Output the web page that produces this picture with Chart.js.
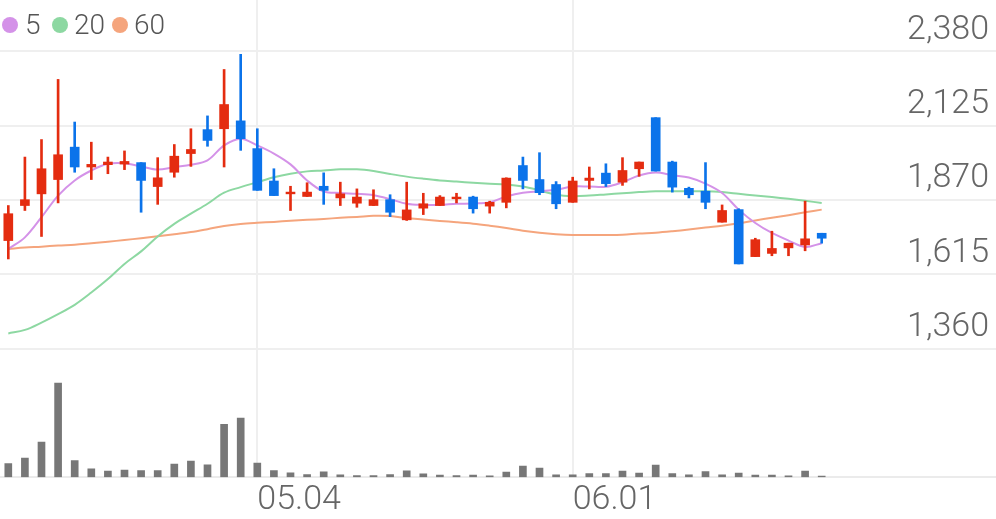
<!DOCTYPE html>
<html>
<head>
<meta charset="utf-8">
<script src="https://cdn.jsdelivr.net/npm/chart.js@4"></script>
<style>
html,body{margin:0;padding:0;background:#fff;}
#wrap{position:relative;width:996px;height:519px;overflow:hidden;}
#legend{position:absolute;left:0;top:0;width:200px;height:50px;font-family:Roboto,sans-serif;font-weight:300;font-size:28px;line-height:28px;color:#555;}
#legend .dot{position:absolute;top:17px;width:16px;height:16px;border-radius:50%;}
#legend .txt{position:absolute;top:11px;white-space:nowrap;}
</style>
</head>
<body>
<div id="wrap">
  <canvas id="c" width="996" height="519"></canvas>
  <div id="legend">
    <span class="dot" style="left:2px;background:#d492e8"></span><span class="txt" style="left:25px">5</span>
    <span class="dot" style="left:52px;background:#8dd8a2"></span><span class="txt" style="left:74px">20</span>
    <span class="dot" style="left:112px;background:#f5a57d"></span><span class="txt" style="left:134px">60</span>
  </div>
</div>
<script>
const dates = ['04.08','04.09','04.10','04.13','04.14','04.16','04.17','04.20','04.21','04.22',
  '04.23','04.24','04.27','04.28','04.29','05.04','05.06','05.07','05.08','05.11',
  '05.12','05.13','05.14','05.15','05.18','05.19','05.20','05.21','05.22','05.25',
  '05.26','05.27','05.28','05.29','06.01','06.02','06.03','06.04','06.05','06.08',
  '06.09','06.10','06.11','06.12','06.15','06.16','06.17','06.18','06.19','06.22'];
const openP  = [1731,1851,1891,1940,2051,1983,1991,1993,1998,1916,
  1965,2029,2111,2114,2141,2046,1935,1891,1882,1917,
  1877,1859,1851,1871,1802,1842,1851,1874,1880,1849,
  1862,1988,1940,1923,1862,1937,1962,1931,1977,2152,
  2000,1910,1900,1794,1837,1676,1687,1706,1716,1756];
const highP  = [1851,2017,2077,2283,2137,2068,2017,2038,1998,2015,
  2060,2114,2158,2317,2369,2114,1977,1917,1929,1963,
  1931,1908,1905,1888,1931,1893,1885,1893,1883,1866,
  1946,2017,2032,1933,1948,1983,1994,2015,2000,2152,
  2003,1914,1998,1853,1840,1739,1763,1722,1866,1756];
const lowP   = [1668,1834,1745,1860,1965,1940,1960,1974,1828,1855,
  1948,1985,2054,1983,2040,1903,1885,1834,1882,1855,
  1851,1845,1851,1813,1800,1820,1851,1860,1825,1825,
  1843,1908,1888,1840,1862,1908,1916,1920,1951,1969,
  1897,1877,1840,1794,1651,1676,1679,1679,1696,1722];
const closeP = [1823,1871,1977,2025,1983,1992,2000,2002,1937,1946,
  2020,2043,2074,2197,2080,1903,1885,1897,1897,1903,
  1891,1880,1871,1828,1836,1857,1880,1880,1840,1862,
  1945,1937,1895,1857,1935,1945,1926,1971,2000,1969,
  1914,1888,1862,1834,1651,1734,1704,1722,1737,1739];
const ma5  = [1702,1742,1811,1885,1937,1971,1994,1996,1985,1974,
  1983,1991,2006,2057,2080,2057,2029,1992,1937,1899,
  1894,1891,1886,1873,1857,1853,1853,1857,1858,1862,
  1882,1895,1900,1905,1916,1916,1915,1931,1954,1964,
  1955,1947,1926,1894,1837,1791,1757,1731,1709,1722];
const ma20 = [1413,1425,1450,1479,1511,1553,1599,1651,1694,1745,
  1788,1823,1857,1895,1914,1931,1948,1960,1968,1971,
  1975,1975,1969,1959,1950,1943,1937,1933,1929,1926,
  1923,1916,1903,1888,1883,1885,1889,1893,1897,1900,
  1900,1900,1900,1897,1891,1885,1880,1874,1867,1860];
const ma60 = [1702,1707,1710,1714,1717,1722,1727,1733,1739,1746,
  1753,1760,1770,1781,1788,1792,1795,1799,1802,1805,
  1809,1812,1816,1815,1808,1803,1798,1794,1789,1782,
  1774,1765,1758,1753,1750,1750,1750,1751,1755,1758,
  1763,1769,1776,1782,1790,1800,1809,1818,1828,1837];
const volume = [68500,95000,175000,470000,83500,41500,30000,35000,33500,33500,
  65000,80000,61500,263500,295000,70000,33500,21500,13500,26500,
  11500,8500,8500,13500,31500,16500,10000,8500,10000,6500,
  25000,55000,45000,11500,11500,18500,18500,30000,20000,60000,
  18500,11500,28500,11500,20000,10000,10000,6500,30000,5000];
const priceTicks = [1360,1615,1870,2125,2380];
const tickLabels = ['05.04','06.01'];
const emptySlots = 10;

const labels = dates.concat(new Array(emptySlots).fill(''));
const UP = '#e42c10', DOWN = '#0b73ea';
const candleColors = closeP.map((c, i) => c >= openP[i] ? UP : DOWN);
const textColor = '#666666';
const gridColor = '#efefef';
const axisFont = {family: 'Roboto', size: 34, weight: 300};

function noPad(s) { s.width = 0; s.paddingTop = 0; s.paddingBottom = 0; }

new Chart(document.getElementById('c'), {
  data: {
    labels: labels,
    datasets: [
      {type: 'line', label: '5', data: ma5, borderColor: '#d492e8', borderWidth: 2, pointRadius: 0, tension: 0.35, yAxisID: 'y', order: 5},
      {type: 'line', label: '20', data: ma20, borderColor: '#8dd8a2', borderWidth: 2, pointRadius: 0, tension: 0.35, yAxisID: 'y', order: 6},
      {type: 'line', label: '60', data: ma60, borderColor: '#f5a57d', borderWidth: 2, pointRadius: 0, tension: 0.35, yAxisID: 'y', order: 7},
      {type: 'bar', label: 'wick', data: lowP.map((l, i) => [l, highP[i]]), backgroundColor: candleColors, barThickness: 2, grouped: false, yAxisID: 'y', order: 2},
      {type: 'bar', label: 'body', data: openP.map((o, i) => [o, closeP[i]]), backgroundColor: candleColors, barThickness: 9, grouped: false, yAxisID: 'y', order: 1},
      {type: 'bar', label: 'volume', data: volume, backgroundColor: '#777777', barThickness: 7, grouped: false, yAxisID: 'v', order: 3}
    ]
  },
  options: {
    responsive: false,
    animation: false,
    layout: {padding: {left: 0, right: 0, top: 0, bottom: -5}},
    plugins: {legend: {display: false}, tooltip: {enabled: false}},
    scales: {
      x: {
        type: 'category',
        offset: true,
        grid: {offset: false, lineWidth: 2, drawTicks: false,
          color: (ctx) => (ctx.tick && ctx.tick.label) ? gridColor : 'rgba(0,0,0,0)'},
        border: {display: true, color: '#ebebeb', width: 2},
        afterFit: (s) => { s.paddingLeft = 0; s.paddingRight = 0; },
        ticks: {
          autoSkip: false, maxRotation: 0, minRotation: 0, align: 'start', padding: 3,
          color: textColor, font: axisFont,
          callback: (v, i) => tickLabels.includes(labels[i]) ? labels[i] : ''
        }
      },
      y: {
        position: 'right', stack: 'panel', stackWeight: 348,
        min: 1360, max: 2555,
        afterBuildTicks: (s) => { s.ticks = priceTicks.map(v => ({value: v})); },
        afterFit: noPad,
        grid: {color: gridColor, lineWidth: 2, drawTicks: false},
        border: {display: false},
        ticks: {mirror: true, padding: -7, labelOffset: -21, color: textColor, font: axisFont,
          callback: (v) => Number(v).toLocaleString('en-US')}
      },
      v: {
        position: 'right', stack: 'panel', stackWeight: 128,
        min: 0, max: 640000,
        afterFit: noPad,
        grid: {display: false, drawTicks: false},
        border: {display: false},
        ticks: {display: false}
      }
    }
  }
});
</script>
</body>
</html>
